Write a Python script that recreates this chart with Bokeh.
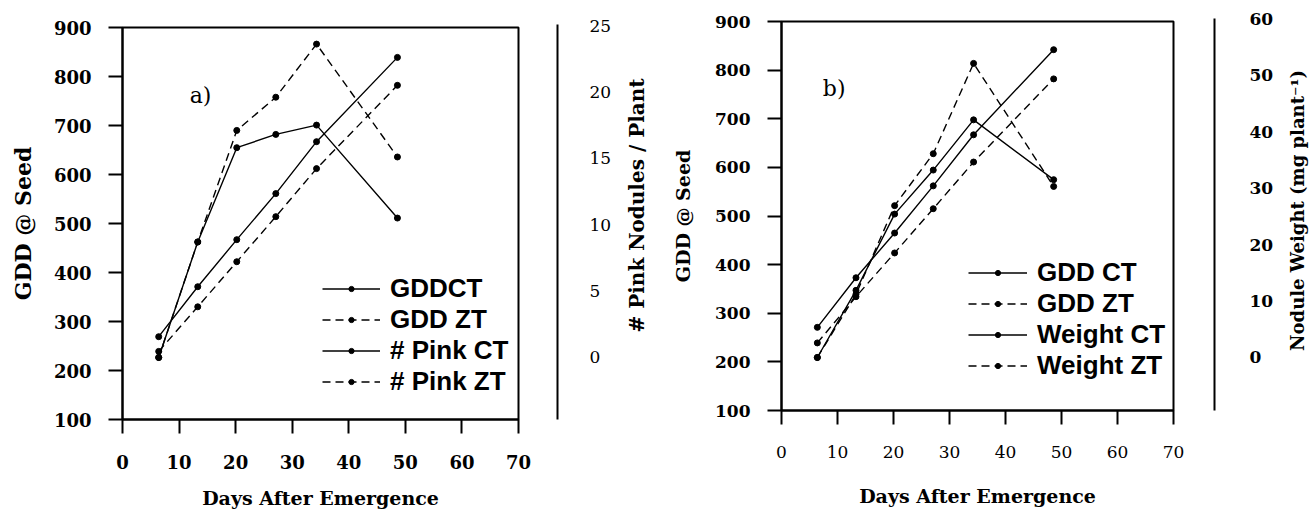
from jinja2 import Template
from bokeh.plotting import figure
from bokeh.models import Range1d, FixedTicker, Label, Legend, LegendItem
from bokeh.embed import file_html
from bokeh.resources import INLINE

# ---------------- data ----------------
days = [6.4, 13.3, 20.2, 27.1, 34.3, 48.6]

# panel a)
gdd_ct_a = [269, 371, 467, 561, 667, 839]
gdd_zt_a = [239, 330, 422, 514, 612, 782]
pink_ct = [0, 8.7, 15.8, 16.8, 17.5, 10.5]
pink_zt = [0, 8.7, 17.1, 19.6, 23.6, 15.1]

# panel b)
gdd_ct_b = [271, 373, 465, 562, 667, 842]
gdd_zt_b = [239, 334, 424, 515, 611, 782]
weight_ct = [0, 11.9, 25.4, 33.2, 42.1, 31.5]
weight_zt = [0, 11.2, 26.9, 36.1, 52.1, 30.3]

gdd_ticks = [100, 200, 300, 400, 500, 600, 700, 800, 900]
day_ticks = [0, 10, 20, 30, 40, 50, 60, 70]
pink_ticks = [0, 5, 10, 15, 20, 25]
weight_ticks = [0, 10, 20, 30, 40, 50, 60]

labels_a = ["GDDCT", "GDD ZT", "# Pink CT", "# Pink ZT"]
labels_b = ["GDD CT", "GDD ZT", "Weight CT", "Weight ZT"]

SERIF = "DejaVu Serif"
SANS = "Liberation Sans"
DASH = "8 5"
H = 515


def main_fig(width, bl, br, bt, bb, extra_name, extra_range, ylab_size, xlab_style,
             xlab_size, ytitle_size, ytitle_standoff, x_title_standoff):
    p = figure(width=width, height=H, x_range=Range1d(0, 70), y_range=Range1d(100, 900),
               output_backend="svg", toolbar_location=None,
               min_border_left=bl, min_border_right=br, min_border_top=bt, min_border_bottom=bb)
    p.extra_y_ranges = {extra_name: extra_range}
    p.grid.visible = False
    p.outline_line_color = "black"
    p.outline_line_width = 2
    p.background_fill_color = "white"
    p.border_fill_color = "white"
    for ax in (p.xaxis[0], p.yaxis[0]):
        ax.axis_line_width = 2
        ax.axis_line_color = "black"
        ax.major_tick_line_width = 2
        ax.major_tick_line_color = "black"
        ax.major_tick_out = 14
        ax.major_tick_in = 0
        ax.minor_tick_line_color = None
        ax.major_label_text_font = SERIF
        ax.major_label_text_color = "black"
        ax.axis_label_text_font = SERIF
        ax.axis_label_text_font_style = "bold"
        ax.axis_label_text_color = "black"
    p.xaxis[0].ticker = FixedTicker(ticks=day_ticks)
    p.yaxis[0].ticker = FixedTicker(ticks=gdd_ticks)
    p.yaxis[0].major_label_text_font_style = "bold"
    p.yaxis[0].major_label_text_font_size = ylab_size
    p.yaxis[0].major_label_standoff = 17
    p.yaxis[0].axis_label = "GDD @ Seed"
    p.yaxis[0].axis_label_text_font_size = ytitle_size
    p.yaxis[0].axis_label_standoff = ytitle_standoff
    p.xaxis[0].major_label_text_font_style = xlab_style
    p.xaxis[0].major_label_text_font_size = xlab_size
    p.xaxis[0].major_label_standoff = 21
    p.xaxis[0].axis_label = "Days After Emergence"
    p.xaxis[0].axis_label_text_font_size = "19px"
    p.xaxis[0].axis_label_standoff = x_title_standoff
    return p


def series(p, x, y, dashed, range_name=None):
    kw = {}
    if range_name:
        kw["y_range_name"] = range_name
    r = p.line(x, y, line_color="black", line_width=1.4,
               line_dash=DASH if dashed else "solid", **kw)
    s = p.scatter(x, y, size=6, color="black", **kw)
    return [r, s]


def add_legend(p, labels, renderers, loc, row_h, glyph_w):
    items = [LegendItem(label=l, renderers=r) for l, r in zip(labels, renderers)]
    lg = Legend(items=items, location=loc, label_text_font=SANS,
                label_text_font_style="bold", label_text_font_size="26px",
                label_text_color="black",
                glyph_width=glyph_w, glyph_height=13, label_height=row_h,
                label_standoff=10, spacing=0, padding=0, margin=0,
                border_line_color=None, background_fill_alpha=0)
    p.add_layout(lg)


def aux_fig(width, bl, bt, bb, yr, ticks, lab_style, standoff):
    p = figure(width=width, height=H, x_range=Range1d(0, 1), y_range=yr,
               x_axis_location=None, y_axis_location="right",
               output_backend="svg", toolbar_location=None,
               min_border_left=bl, min_border_right=width - bl - 10,
               min_border_top=bt, min_border_bottom=bb)
    p.outline_line_color = None
    p.grid.visible = False
    p.border_fill_color = "white"
    ax = p.yaxis[0]
    ax.ticker = FixedTicker(ticks=ticks)
    ax.axis_line_width = 2
    ax.axis_line_color = "black"
    ax.major_tick_line_color = None
    ax.minor_tick_line_color = None
    ax.major_tick_out = 0
    ax.major_tick_in = 0
    ax.major_label_standoff = standoff
    ax.major_label_text_font = SERIF
    ax.major_label_text_font_style = lab_style
    ax.major_label_text_font_size = "17px"
    ax.major_label_text_color = "black"
    return p


def title_fig(width, bl, bt, bb, text, size):
    # a figure holding only an axis title (reads bottom-to-top)
    p = figure(width=width, height=H, x_range=Range1d(0, 1), y_range=Range1d(0, 1),
               x_axis_location=None, y_axis_location="left",
               output_backend="svg", toolbar_location=None,
               min_border_left=bl, min_border_right=0,
               min_border_top=bt, min_border_bottom=bb)
    p.outline_line_color = None
    p.grid.visible = False
    p.border_fill_color = "white"
    ax = p.yaxis[0]
    ax.ticker = FixedTicker(ticks=[])
    ax.axis_line_color = None
    ax.major_tick_line_color = None
    ax.minor_tick_line_color = None
    ax.major_tick_out = 0
    ax.major_tick_in = 0
    ax.major_label_standoff = 0
    ax.major_label_text_font_size = "0px"
    ax.axis_label = text
    ax.axis_label_standoff = 4
    ax.axis_label_text_font = SERIF
    ax.axis_label_text_font_style = "bold"
    ax.axis_label_text_font_size = size
    ax.axis_label_text_color = "black"
    return p


# ---------------- panel a ----------------
pa = main_fig(537, 122, 19, 27, H - 419, "nod", Range1d(-4.67, 24.85),
              "18px", "bold", "18px", "22px", 15, 15)
ra = [series(pa, days, gdd_ct_a, False),
      series(pa, days, gdd_zt_a, True),
      series(pa, days, pink_ct, False, "nod"),
      series(pa, days, pink_zt, True, "nod")]
add_legend(pa, labels_a, ra, (200, 22), 31, 58)
pa.add_layout(Label(x=13.8, y=761, text="a)", text_font=SERIF, text_font_size="22px",
                    text_align="center", text_baseline="middle", text_color="black"))

aux_a = aux_fig(83, 10, 24, H - 419, Range1d(-4.67, 25.08), pink_ticks, "normal", 32)
title_a = title_fig(40, 32, 10, H - 400, "# Pink Nodules / Plant", "20px")

# ---------------- panel b ----------------
pb = main_fig(533, 121, 20, 21, H - 410, "wt", Range1d(-9.39, 59.52),
              "17px", "normal", "17px", "19px", 18, 24)
rb = [series(pb, days, gdd_ct_b, False),
      series(pb, days, gdd_zt_b, True),
      series(pb, days, weight_ct, False, "wt"),
      series(pb, days, weight_zt, True, "wt")]
add_legend(pb, labels_b, rb, (187, 29), 30, 59)
pb.add_layout(Label(x=9.4, y=762, text="b)", text_font=SERIF, text_font_size="22px",
                    text_align="center", text_baseline="middle", text_color="black"))

aux_b = aux_fig(86, 11, 18, H - 410, Range1d(-9.39, 60.05), weight_ticks, "bold", 35)
title_b = title_fig(35, 32, 10, H - 410, "Nodule Weight (mg plant\u207b\u00b9)", "18px")

PAGE = Template("""{% from macros import embed %}<!DOCTYPE html>
<html lang="en">
<head>
<meta charset="utf-8">
<title>{{ title }}</title>
<style>
html, body { box-sizing: border-box; margin: 0; padding: 0; }
.rowwrap { display: flex; flex-direction: row; align-items: flex-start; }
</style>
{{ bokeh_css if bokeh_css }}
{{ bokeh_js if bokeh_js }}
</head>
<body>
<div class="rowwrap">
{% for doc in docs %}{% for root in doc.roots %}{{ embed(root) }}
{% endfor %}{% endfor %}
</div>
{{ plot_script }}
</body>
</html>
""")

roots = [pa, aux_a, title_a, pb, aux_b, title_b]
open("out.html", "w").write(file_html(roots, INLINE, title="GDD and nodules", template=PAGE))
